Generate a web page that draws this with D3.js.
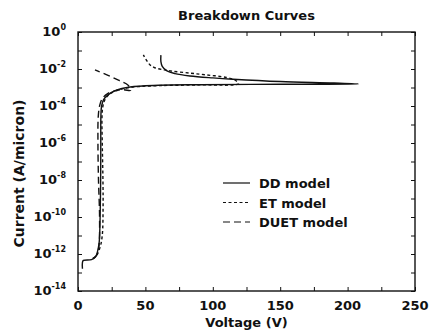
<!DOCTYPE html>
<html>
<head>
<meta charset="utf-8">
<script src="https://cdn.jsdelivr.net/npm/d3@7"></script>
<style>
  body { margin: 0; background: #fff; }
  text { font-family: "DejaVu Sans", sans-serif; font-weight: bold; fill: #111; }
  .axis path, .axis line { stroke: #111; }
</style>
</head>
<body>
<div id="chart"></div>
<script>
// voltage (V), current (A/micron)
var ddCurve = [
  [3.3, 1.6e-13], [3.3, 3.5e-13], [4, 4.5e-13], [10, 5e-13], [13, 7e-13], [15, 2e-12],
  [15.8, 5e-12], [16.4, 1e-10], [16.8, 1e-8], [16.9, 1e-6], [17, 3.2e-5], [17.5, 1e-4],
  [19, 2.2e-4], [22.3, 4e-4], [28, 7e-4], [38.7, 1.07e-3], [60, 1.32e-3], [90, 1.42e-3],
  [150, 1.5e-3], [208, 1.55e-3],
  [190, 1.75e-3], [150, 2.1e-3], [115, 2.8e-3], [100, 3.3e-3], [83, 4.2e-3], [72, 5.6e-3],
  [66, 7.9e-3], [62.5, 1.4e-2], [61.5, 2.5e-2], [61.5, 5.6e-2]
];
var etCurve = [
  [11, 5.6e-13], [14, 8.9e-13], [16.5, 2.5e-12], [18, 1e-11], [18.6, 3.2e-10], [18.5, 1e-8],
  [18, 1e-6], [17.8, 2.5e-5], [18.5, 1e-4], [20, 2.2e-4], [23, 4.2e-4], [28, 6.6e-4],
  [38, 1e-3], [60, 1.26e-3], [90, 1.38e-3], [119, 1.6e-3],
  [117, 2.4e-3], [110, 3.5e-3], [95, 4.8e-3], [83, 6e-3], [70, 7.6e-3], [64, 8.9e-3],
  [57, 1.17e-2], [53.5, 1.66e-2], [50.5, 3.2e-2], [48.5, 5.8e-2]
];
var duetCurve = [
  [11, 5.6e-13], [14, 8.9e-13], [15.5, 2.5e-12], [16, 1e-10], [15.2, 1e-8], [14.8, 1e-6],
  [15, 2.5e-5], [16, 1e-4], [18, 2.5e-4], [22, 4.7e-4], [28, 6.8e-4], [34, 7.6e-4],
  [39, 7e-4],
  [38, 1.1e-3], [37, 1.38e-3], [30, 2.5e-3], [21, 5e-3], [12.6, 8.9e-3]
];

var xTicks = [0, 50, 100, 150, 200, 250];
var yExponents = [0, -2, -4, -6, -8, -10, -12, -14];
var seriesNames = ["DD model", "ET model", "DUET model"];
var seriesDash = [null, "3,2.5", "7,4"];

var width = 431, height = 333;
var margin = { top: 32, right: 16, bottom: 42, left: 78 };

var svg = d3.select("#chart").append("svg")
  .attr("width", width)
  .attr("height", height);

var x = d3.scaleLinear().domain([0, 250]).range([margin.left, width - margin.right]);
var y = d3.scaleLog().domain([1e-14, 1]).range([height - margin.bottom, margin.top]);

// title
svg.append("text")
  .attr("x", (x(0) + x(250)) / 2)
  .attr("y", 20)
  .attr("text-anchor", "middle")
  .style("font-size", "13px")
  .text("Breakdown Curves");

// ticks every 25 V, inside, top and bottom
var xMinor = d3.range(0, 251, 25);
svg.append("g").attr("class", "axis")
  .attr("transform", "translate(0," + y(1e-14) + ")")
  .call(d3.axisBottom(x).tickValues(xMinor).tickSize(-4).tickFormat(""))
  .call(function (g) { g.select(".domain").remove(); });
svg.append("g").attr("class", "axis")
  .attr("transform", "translate(0," + y(1) + ")")
  .call(d3.axisTop(x).tickValues(xMinor).tickSize(-4).tickFormat(""))
  .call(function (g) { g.select(".domain").remove(); });

// decade ticks left and right
var decades = d3.range(-14, 1).map(function (e) { return Math.pow(10, e); });
svg.append("g").attr("class", "axis")
  .attr("transform", "translate(" + x(0) + ",0)")
  .call(d3.axisLeft(y).tickValues(decades).tickSize(-4).tickFormat(""))
  .call(function (g) { g.select(".domain").remove(); });
svg.append("g").attr("class", "axis")
  .attr("transform", "translate(" + x(250) + ",0)")
  .call(d3.axisRight(y).tickValues(decades).tickSize(-4).tickFormat(""))
  .call(function (g) { g.select(".domain").remove(); });

// frame
svg.append("rect")
  .attr("x", x(0)).attr("y", y(1))
  .attr("width", x(250) - x(0)).attr("height", y(1e-14) - y(1))
  .attr("fill", "none").attr("stroke", "#111").attr("stroke-width", 1.4);

// x tick labels
svg.append("g").selectAll("text")
  .data(xTicks).enter().append("text")
  .attr("x", function (d) { return x(d); })
  .attr("y", 310)
  .attr("text-anchor", "middle")
  .style("font-size", "13px")
  .text(function (d) { return d; });

// y tick labels 10^n
var yl = svg.append("g").selectAll("text")
  .data(yExponents).enter().append("text")
  .attr("x", x(0) - 12)
  .attr("y", function (d) { return y(Math.pow(10, d)) + 4; })
  .attr("text-anchor", "end")
  .style("font-size", "13px");
yl.append("tspan").text("10");
yl.append("tspan")
  .attr("dy", -6)
  .style("font-size", "8px")
  .text(function (d) { return d === 0 ? "0" : d; });

// axis titles
svg.append("text")
  .attr("x", (x(0) + x(250)) / 2)
  .attr("y", 327)
  .attr("text-anchor", "middle")
  .style("font-size", "13px")
  .text("Voltage (V)");

svg.append("text")
  .attr("transform", "translate(24," + ((y(1) + y(1e-14)) / 2 + 12) + ") rotate(-90)")
  .attr("text-anchor", "middle")
  .style("font-size", "14px")
  .text("Current (A/micron)");

// curves
var line = d3.line()
  .x(function (d) { return x(d[0]); })
  .y(function (d) { return y(d[1]); })
  .curve(d3.curveCatmullRom.alpha(0.5));

var curves = [ddCurve, etCurve, duetCurve];
curves.forEach(function (c, i) {
  svg.append("path")
    .datum(c)
    .attr("d", line)
    .attr("fill", "none")
    .attr("stroke", "#111")
    .attr("stroke-width", 1.4)
    .attr("stroke-dasharray", seriesDash[i]);
});

// legend
var legend = svg.append("g").selectAll("g")
  .data(seriesNames).enter().append("g")
  .attr("transform", function (d, i) { return "translate(223," + (183 + i * 19.5) + ")"; });
legend.append("line")
  .attr("x1", 0).attr("x2", 27)
  .attr("stroke", "#111").attr("stroke-width", 1.2)
  .attr("stroke-dasharray", function (d, i) { return seriesDash[i]; });
legend.append("text")
  .attr("x", 36).attr("y", 5)
  .style("font-size", "13px")
  .text(function (d) { return d; });
</script>
</body>
</html>
